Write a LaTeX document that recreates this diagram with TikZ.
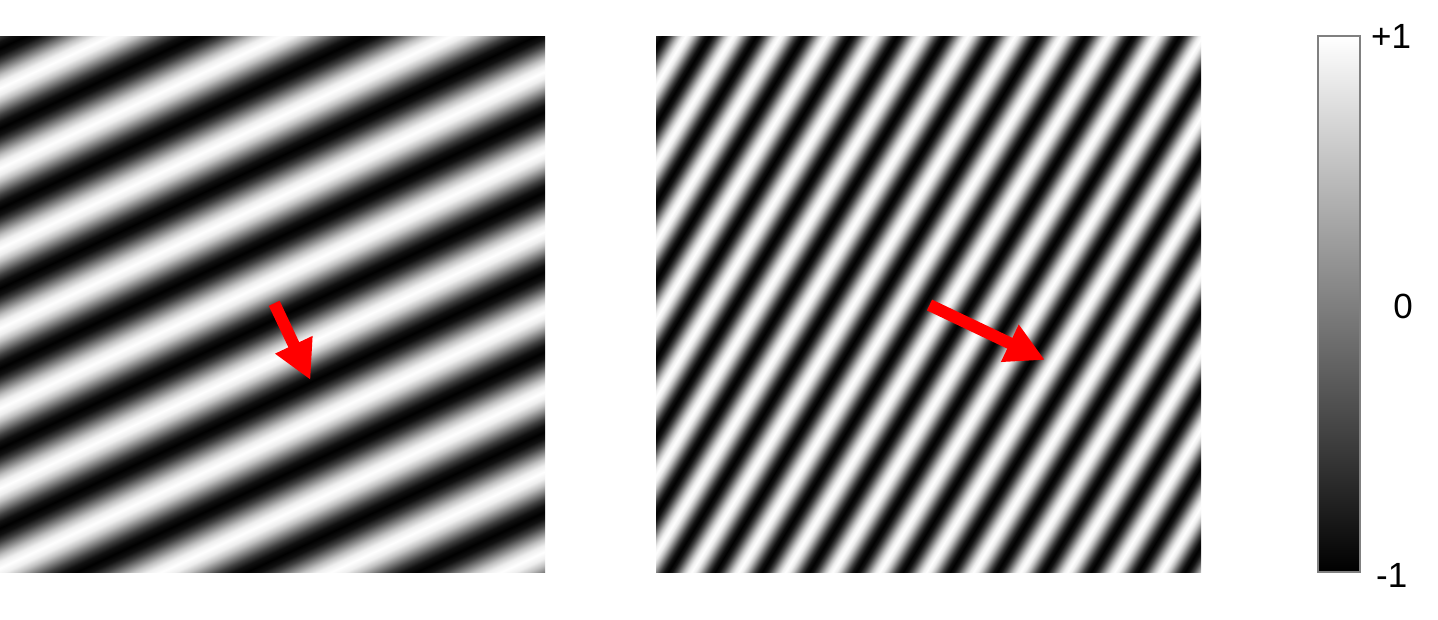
\documentclass[tikz,border=0pt]{standalone}
\usepackage{fontspec}
\setmainfont{Liberation Sans}
\usetikzlibrary{arrows.meta}

% #1 name, #2 wavelength (pt), #3 number of stops (12 per period)
\newcommand\mkgrating[3]{%
  \gdef\gspec{}%
  \foreach \i in {0,...,#3}{%
    \pgfmathsetmacro\gpos{\i*#2/12}%
    \pgfmathsetmacro\gval{0.5-0.5*cos(\i*30)}%
    \ifnum\i=0
      \xdef\gspec{rgb(\gpos pt)=(\gval,\gval,\gval)}%
    \else
      \xdef\gspec{\gspec; rgb(\gpos pt)=(\gval,\gval,\gval)}%
    \fi
  }%
  \edef\gtmp{\noexpand\pgfdeclarehorizontalshading{#1}{880pt}{\gspec}}\gtmp
}
\mkgrating{gratL}{72.385}{144}
\mkgrating{gratR}{40.256}{240}

\tikzset{
  grating/.style={inner sep=0pt, outer sep=0pt, anchor=center},
  kvec/.style={draw=red, line width=12pt, line cap=butt,
    -{Triangle[length=39pt, width=38.5pt]}},
  barlabel/.style={inner sep=0pt, font=\fontsize{35}{40}\selectfont},
}

\begin{document}
\begin{tikzpicture}[x=1pt, y=-1pt]
  \useasboundingbox (0,0) rectangle (1438,619);
  \fill[white] (0,0) rectangle (1438,619);

  % left grating
  \begin{scope}
    \clip (0,36) rectangle (545,572);
    \node[grating, rotate=-64.8] (gl) at (306,304) {\pgfuseshading{gratL}};
  \end{scope}

  % right grating
  \begin{scope}
    \clip (656,36) rectangle (1201,572);
    \node[grating, rotate=-31.07] (gr) at (923.5,304) {\pgfuseshading{gratR}};
  \end{scope}

  % arrows
  \coordinate (la1) at (274.2,303.3);
  \coordinate (la2) at (310.5,380);
  \draw[kvec] (la1) -- (la2);
  \coordinate (ra1) at (929.5,305);
  \coordinate (ra2) at (1045,360);
  \draw[kvec] (ra1) -- (ra2);

  % colour bar
  \shade[top color=white, bottom color=black] (1318,36) rectangle (1360,572);
  \draw[draw={rgb,255:red,128;green,128;blue,128}, line width=1.5pt] (1318,36) rectangle (1360,572);
  \node[barlabel, anchor=base west] (lp) at (1371,48) {+1};
  \node[barlabel, anchor=base] (lz) at (1403,318) {0};
  \node[barlabel, anchor=base west] (lm) at (1376,587) {-1};
\end{tikzpicture}
\end{document}
